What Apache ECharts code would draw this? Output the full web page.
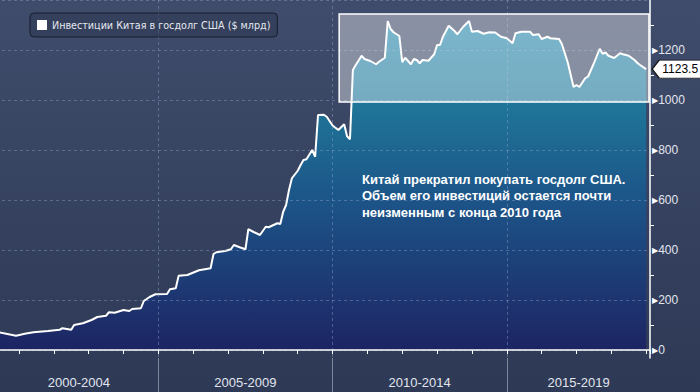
<!DOCTYPE html>
<html><head><meta charset="utf-8">
<script src="https://cdn.jsdelivr.net/npm/echarts@6/dist/echarts.min.js"></script>
<style>html,body{margin:0;padding:0;background:#333f5c}#c{width:700px;height:392px}</style>
</head><body><div id="c"></div>
<script>
const seriesName = 'Инвестиции Китая в госдолг США ($ млрд)';
const months = ['2000-03','2000-05','2000-11','2001-02','2001-05','2001-10','2002-02','2002-03','2002-06','2002-07','2002-10','2003-01','2003-03','2003-06','2003-07','2003-09','2003-12','2004-02','2004-03','2004-06','2004-07','2004-09','2004-11','2005-03','2005-04','2005-06','2005-07','2005-10','2006-02','2006-06','2006-07','2006-08','2006-11','2007-01','2007-02','2007-04','2007-06','2007-07','2007-09','2007-11','2008-01','2008-02','2008-05','2008-06','2008-07','2008-08','2008-09','2008-10','2008-12','2009-01','2009-02','2009-03','2009-05','2009-06','2009-07','2009-09','2009-10','2009-12','2010-02','2010-04','2010-05','2010-06','2010-07','2010-08','2010-10','2010-11','2011-01','2011-03','2011-04','2011-06','2011-07','2011-08','2011-09','2011-11','2011-12','2012-01','2012-03','2012-04','2012-05','2012-06','2012-07','2012-09','2012-11','2012-12','2013-01','2013-02','2013-04','2013-06','2013-07','2013-09','2013-11','2013-12','2014-02','2014-04','2014-06','2014-08','2014-10','2014-12','2015-02','2015-03','2015-05','2015-08','2015-09','2015-11','2015-12','2016-02','2016-03','2016-06','2016-07','2016-09','2016-11','2016-12','2017-01','2017-03','2017-04','2017-06','2017-08','2017-09','2017-10','2017-11','2018-01','2018-03','2018-04','2018-06','2018-08','2018-09','2018-10','2018-12'];
const values = [72,71,57,65,71,76,81,87,81,100,107,120,132,137,151,149,160,156,164,167,196,212,223,224,243,247,297,300,319,327,384,391,396,403,420,411,403,483,471,460,493,491,507,504,553,580,640,687,717,740,760,763,800,773,940,941,933,898,880,903,855,843,1120,1140,1177,1164,1156,1143,1153,1169,1316,1284,1271,1256,1151,1169,1143,1164,1160,1147,1160,1157,1183,1220,1220,1253,1297,1276,1263,1293,1316,1273,1276,1265,1271,1270,1253,1247,1227,1267,1273,1273,1260,1263,1244,1253,1247,1244,1223,1150,1052,1060,1052,1087,1094,1147,1205,1185,1190,1177,1168,1187,1183,1177,1160,1148,1139,1123.5];
const periodLabels = ['2000-2004','2005-2009','2010-2014','2015-2019'];
const periodCenters = [2002.72, 2007.5, 2012.5, 2017.06];
const periodBounds = [2005, 2010, 2015];
const annotation = 'Китай прекратил покупать госдолг США.\nОбъем его инвестиций остается почти\nнеизменным с конца 2010 года';

function toT(s){ const p = s.split('-').map(Number); return p[0] + p[1]/12; }
const seriesData = months.map((m,i)=>[toT(m), values[i]]);
const last = seriesData[seriesData.length-1];

const X_MIN = 2000, X_MAX = 2019.11;
const chart = echarts.init(document.getElementById('c'), null, {renderer:'svg'});
const font = 'Liberation Sans, Arial, sans-serif';
chart.setOption({
  animation:false,
  backgroundColor: new echarts.graphic.LinearGradient(0,0,0,1,[{offset:0,color:'#3f4c6b'},{offset:1,color:'#2d3955'}]),
  title:{text:annotation,left:362,top:171,padding:0,textStyle:{color:'#fff',fontWeight:'bold',fontSize:13,lineHeight:16.5,fontFamily:font}},
  legend:{data:[{name:seriesName,icon:'rect',itemStyle:{color:'#fff'}}],left:30,top:13,padding:[7,7,7,7],itemWidth:10,itemHeight:10,
    backgroundColor:'rgba(40,50,76,0.45)',borderColor:'#161c2d',borderWidth:1,borderRadius:4,selectedMode:false,
    textStyle:{color:'#e6e8ef',fontFamily:'DejaVu Sans',fontSize:9.6}},
  grid:[
    {left:-15.9,right:50,top:0,bottom:34,outerBoundsMode:'none',containLabel:false},
    {left:-15.9,right:50,top:0,bottom:42,outerBoundsMode:'none',containLabel:false}
  ],
  xAxis:[
    {gridIndex:0,type:'value',position:'bottom',min:X_MIN,max:X_MAX,interval:1,z:4,
      axisLine:{show:true,lineStyle:{color:'#fff',width:1.5}},
      axisTick:{show:true,length:4,lineStyle:{color:'#fff'}},
      axisLabel:{show:false},splitLine:{show:false}},
    {gridIndex:0,type:'value',position:'bottom',min:X_MIN,max:X_MAX,interval:5,z:3,
      axisLine:{show:false},
      axisTick:{show:true,customValues:periodBounds,length:34,lineStyle:{color:'rgba(190,196,212,0.55)'}},
      axisLabel:{show:true,customValues:periodCenters,margin:18,color:'#e2e5ee',fontSize:13,fontFamily:font,
        formatter:(v)=>{let bi=0,bd=1e9;periodCenters.forEach((c,i)=>{const d=Math.abs(c-v);if(d<bd){bd=d;bi=i;}});return periodLabels[bi];}},
      splitLine:{show:true,lineStyle:{type:[3,3],color:'rgba(140,160,195,0.45)'}}},
    {gridIndex:1,type:'value',min:X_MIN,max:X_MAX,show:false}
  ],
  yAxis:[
    {gridIndex:0,type:'value',position:'right',min:-32,max:1400,z:4,
      axisLine:{show:true,lineStyle:{color:'#fff',width:1.5}},axisTick:{show:false},axisLabel:{show:false},splitLine:{show:false}},
    {gridIndex:1,type:'value',position:'right',min:0,max:1400,interval:200,z:3,
      axisLine:{show:false},axisTick:{show:false},
      minorTick:{show:true,splitNumber:2,length:4,lineStyle:{color:'#fff'}},
      axisLabel:{margin:2,formatter:(v)=> v===1400?'':'{t|▶}{v|'+v+'}',
        rich:{t:{fontSize:8,color:'#fff',fontFamily:'DejaVu Sans'},v:{fontSize:12,color:'#e2e5ee',fontFamily:font}}},
      splitLine:{show:true,lineStyle:{type:[3,3],color:'rgba(140,160,195,0.45)'}}}
  ],
  series:[{
    name:seriesName,type:'line',xAxisIndex:0,yAxisIndex:0,data:seriesData,showSymbol:false,clip:false,z:2,
    lineStyle:{color:'#fff',width:2},itemStyle:{color:'#fff'},
    areaStyle:{opacity:1,color:new echarts.graphic.LinearGradient(0,0,0,1,[
      {offset:0,color:'#2689ad'},{offset:0.25,color:'#1f7699'},{offset:0.53,color:'#1c5689'},{offset:0.95,color:'#1d2a68'},{offset:1,color:'#1c2462'}])},
    markArea:{silent:true,z:10,itemStyle:{color:'rgba(255,255,255,0.39)',borderColor:'#fff',borderWidth:1.5},
      data:[[{xAxis:2010.19,yAxis:992},{xAxis:2019.08,yAxis:1344}]]},
    markPoint:{silent:true,z:12,data:[{coord:last,value:last[1]}],
      symbol:'path://M0,9 L7,0 L50,0 L50,18 L7,18 Z',symbolSize:[50,18],symbolKeepAspect:false,symbolOffset:[31,0],
      itemStyle:{color:'#fff',borderColor:'#1a1a1a',borderWidth:1},
      label:{show:true,position:'inside',offset:[3,0],color:'#000',fontSize:12,fontFamily:font,formatter:(p)=>String(p.value)}}
  }]
});
</script></body></html>
